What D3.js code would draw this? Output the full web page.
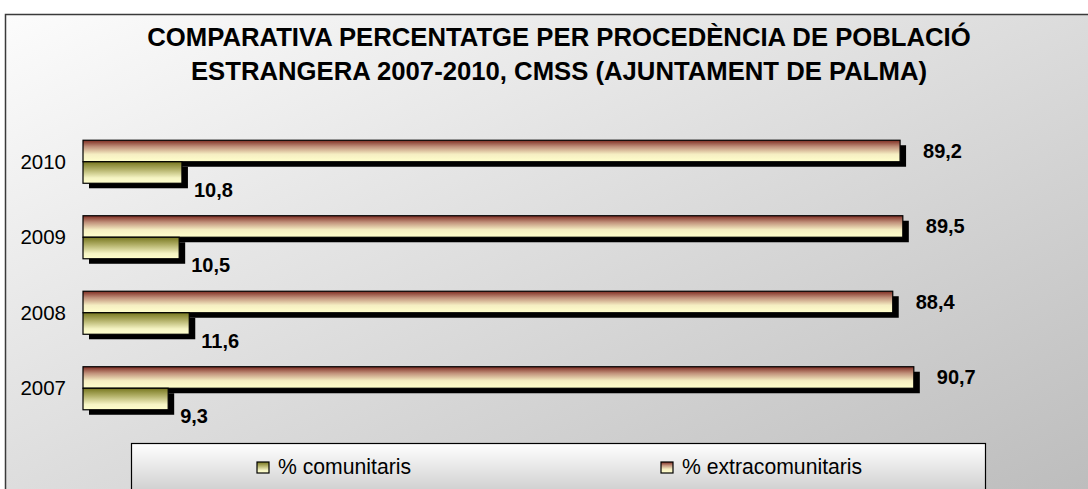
<!DOCTYPE html>
<meta charset="utf-8">
<script src="https://d3js.org/d3.v7.min.js"></script>
<style>
  body { margin: 0; background: #fff; }
  text { font-family: 'Liberation Sans', Arial, sans-serif; }
</style>
<body>
<div id="my_dataviz"></div>
<script>

// data
var years = ["2010", "2009", "2008", "2007"];
var comunitaris = [10.8, 10.5, 11.6, 9.3];
var extracomunitaris = [89.2, 89.5, 88.4, 90.7];
var seriesNames = ["% comunitaris", "% extracomunitaris"];
var titleLines = ["COMPARATIVA PERCENTATGE PER PROCEDÈNCIA DE POBLACIÓ",
                  "ESTRANGERA 2007-2010, CMSS (AJUNTAMENT DE PALMA)"];

var W = 1088, H = 489;

var svg = d3.select("#my_dataviz")
  .append("svg")
    .attr("width", W)
    .attr("height", H);

var defs = svg.append("defs");

// chart area background, light top-left to grey bottom-right
var bg = defs.append("linearGradient").attr("id", "bgGrad")
  .attr("x1", 0).attr("y1", 0).attr("x2", 1).attr("y2", 1);
bg.append("stop").attr("offset", "0%").attr("stop-color", "#fcfcfc");
bg.append("stop").attr("offset", "100%").attr("stop-color", "#bababa");

function vGrad(id, stops) {
  var g = defs.append("linearGradient").attr("id", id)
    .attr("x1", 0).attr("y1", 0).attr("x2", 0).attr("y2", 1);
  stops.forEach(function(s) {
    g.append("stop").attr("offset", s[0]).attr("stop-color", s[1]);
  });
}
vGrad("extraGrad", [["0%", "#7e2c22"], ["30%", "#c0907a"], ["65%", "#f5eec2"], ["100%", "#ffffcc"]]);
vGrad("comGrad", [["0%", "#77771f"], ["35%", "#b2b068"], ["75%", "#f5f4c4"], ["100%", "#ffffcc"]]);
vGrad("legGrad", [["0%", "#ffffff"], ["100%", "#b9b9b9"]]);

// outer chart frame (runs past the right and bottom edges)
svg.append("rect")
  .attr("x", 5.5).attr("y", 14.5)
  .attr("width", W + 20).attr("height", H + 20)
  .attr("fill", "url(#bgGrad)")
  .attr("stroke", "#3a3a3a")
  .attr("stroke-width", 1.5);

// title
svg.append("g").selectAll("text")
  .data(titleLines)
  .enter()
  .append("text")
    .attr("x", 559)
    .attr("y", function(d, i) { return 46 + i * 34; })
    .attr("text-anchor", "middle")
    .style("font-size", "25.7px")
    .style("font-weight", "bold")
    .style("fill", "#000")
    .text(function(d) { return d; });

// scales
var y = d3.scaleBand()
  .domain(years)
  .range([124, 426])
  .paddingInner(0.43)
  .paddingOuter(0.215);

var sub = d3.scaleBand()
  .domain(["extra", "com"])
  .range([0, y.bandwidth()]);

var x = d3.scaleLinear()
  .domain([0, 100])
  .range([83, 999]);

var fmt = d3.formatLocale({decimal: ",", thousands: ".", grouping: [3], currency: ["", ""]}).format(".1f");

var rows = years.map(function(yr, i) {
  return [
    {year: yr, key: "extra", value: extracomunitaris[i], fill: "url(#extraGrad)"},
    {year: yr, key: "com", value: comunitaris[i], fill: "url(#comGrad)"}
  ];
});
var bars = [].concat.apply([], rows);

// category axis labels
svg.append("g").selectAll("text")
  .data(years)
  .enter()
  .append("text")
    .attr("x", 66)
    .attr("y", function(d) { return y(d) + y.bandwidth() / 2 + 7; })
    .attr("text-anchor", "end")
    .style("font-size", "20.5px")
    .style("fill", "#000")
    .text(function(d) { return d; });

// shadows first, then the bars on top
svg.append("g").selectAll("rect")
  .data(bars)
  .enter()
  .append("rect")
    .attr("x", x(0) + 6)
    .attr("y", function(d) { return y(d.year) + sub(d.key) + 5; })
    .attr("width", function(d) { return x(d.value) - x(0); })
    .attr("height", sub.bandwidth())
    .attr("fill", "#000");

svg.append("g").selectAll("rect")
  .data(bars)
  .enter()
  .append("rect")
    .attr("x", x(0))
    .attr("y", function(d) { return y(d.year) + sub(d.key); })
    .attr("width", function(d) { return x(d.value) - x(0); })
    .attr("height", sub.bandwidth())
    .attr("fill", function(d) { return d.fill; })
    .attr("stroke", "#000")
    .attr("stroke-width", 1.2);

// value labels
svg.append("g").selectAll("text")
  .data(bars)
  .enter()
  .append("text")
    .attr("x", function(d) { return x(d.value) + (d.key == "extra" ? 23 : 12); })
    .attr("y", function(d) {
      var c = y(d.year) + sub(d.key) + sub.bandwidth() / 2;
      return (d.key == "extra" ? c : c + 17) + 7;
    })
    .style("font-size", "20px")
    .style("font-weight", "bold")
    .style("fill", "#000")
    .text(function(d) { return fmt(d.value); });

// legend box
svg.append("rect")
  .attr("x", 131.5).attr("y", 443.5)
  .attr("width", 854).attr("height", 70)
  .attr("fill", "url(#legGrad)")
  .attr("stroke", "#000")
  .attr("stroke-width", 1.2);

var legX = [257, 661];
var legFill = ["url(#comGrad)", "url(#extraGrad)"];
var leg = svg.append("g").selectAll("g")
  .data(seriesNames)
  .enter()
  .append("g");
leg.append("rect")
  .attr("x", function(d, i) { return legX[i]; })
  .attr("y", 462)
  .attr("width", 12).attr("height", 11)
  .attr("fill", function(d, i) { return legFill[i]; })
  .attr("stroke", "#000")
  .attr("stroke-width", 1.2);
leg.append("text")
  .attr("x", function(d, i) { return legX[i] + 21; })
  .attr("y", 474)
  .style("font-size", "21.2px")
  .style("fill", "#000")
  .text(function(d) { return d; });

</script>
</body>
